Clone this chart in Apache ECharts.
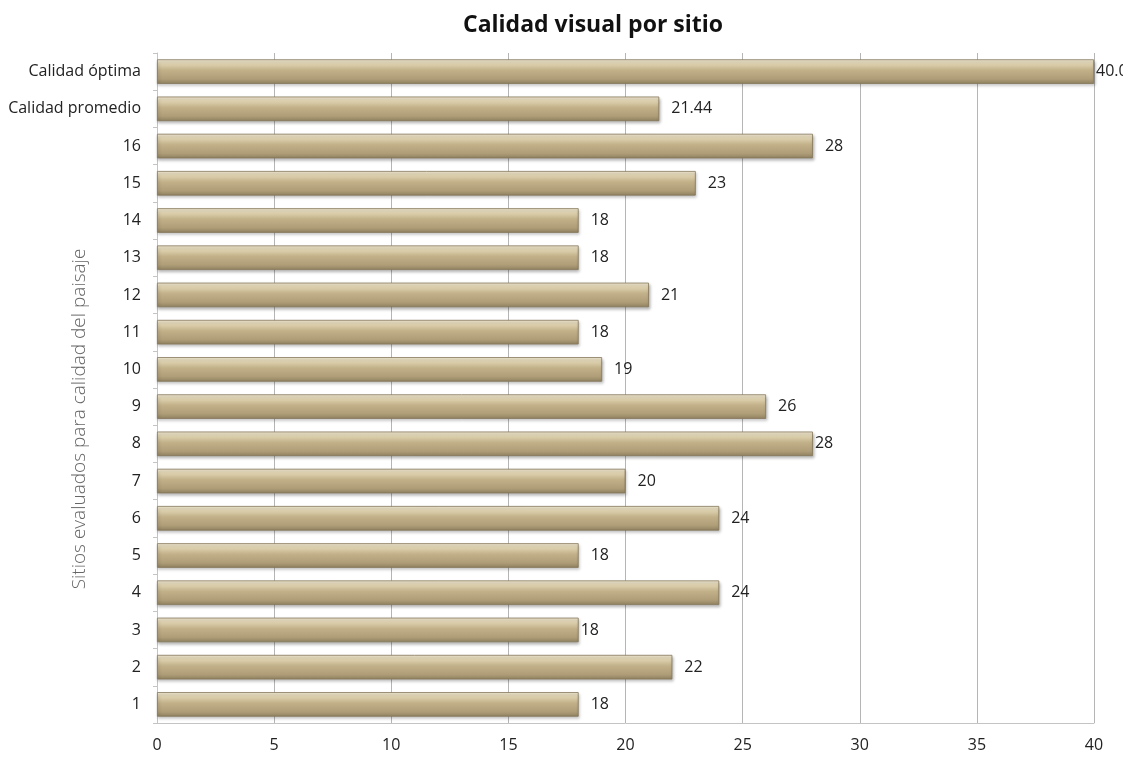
<!DOCTYPE html>
<html>
<head>
<meta charset="utf-8">
<title>Calidad visual por sitio</title>
<script src="https://cdn.jsdelivr.net/npm/echarts@6/dist/echarts.min.js"></script>
<style>
  html, body { margin: 0; padding: 0; background: #ffffff; }
  #chart { width: 1123px; height: 763px; }
</style>
</head>
<body>
<div id="chart"></div>
<script>
// Sites, listed bottom to top
const categories = ['1', '2', '3', '4', '5', '6', '7', '8', '9', '10', '11', '12', '13', '14', '15', '16', 'Calidad promedio', 'Calidad óptima'];
const values = [18, 22, 18, 24, 18, 24, 20, 28, 26, 19, 18, 21, 18, 18, 23, 28, 21.44, 40];
const valueLabels = ['18', '22', '18', '24', '18', '24', '20', '28', '26', '19', '18', '21', '18', '18', '23', '28', '21.44', '40.00'];
const xTicks = [0, 5, 10, 15, 20, 25, 30, 35, 40];

// bars whose value label sits right against the bar end
const tightLabels = new Set(['3', '8', 'Calidad óptima']);

const FONT = '"Open Sans", "Noto Sans", sans-serif';

const barFill = new echarts.graphic.LinearGradient(0, 0, 0, 1, [
  { offset: 0, color: '#f3ebd5' },
  { offset: 0.2, color: '#ddd0ad' },
  { offset: 0.45, color: '#c1b088' },
  { offset: 0.8, color: '#ae9d77' },
  { offset: 1, color: '#8f805f' }
]);

const seriesData = values.map((v, i) => ({
  value: v,
  label: {
    formatter: valueLabels[i],
    distance: tightLabels.has(categories[i]) ? 2 : 12
  }
}));

const chart = echarts.init(document.getElementById('chart'), null, { renderer: 'canvas' });
chart.setOption({
  backgroundColor: '#ffffff',
  animation: false,
  title: {
    text: 'Calidad visual por sitio',
    left: 458,
    top: 9,
    textStyle: { fontFamily: FONT, fontSize: 23, fontWeight: 'bold', color: '#111' }
  },
  grid: { left: 157, right: 29, top: 53, bottom: 40, containLabel: false },
  xAxis: {
    type: 'value',
    min: xTicks[0],
    max: xTicks[xTicks.length - 1],
    interval: xTicks[1] - xTicks[0],
    axisLine: { show: true, lineStyle: { color: '#c4c4c4' } },
    axisTick: { show: false },
    splitLine: { show: true, lineStyle: { color: '#b5b5b5', width: 1 } },
    axisLabel: { fontFamily: FONT, fontSize: 16, color: '#222', margin: 14 }
  },
  yAxis: {
    type: 'category',
    data: categories,
    name: 'Sitios evaluados para calidad del paisaje',
    nameLocation: 'middle',
    nameGap: 68,
    nameMoveOverlap: false,
    nameTextStyle: { fontFamily: FONT, fontSize: 19, fontWeight: 300, color: '#666', padding: [0, 62, 0, 0] },
    axisLine: { show: true, lineStyle: { color: '#c4c4c4' } },
    axisTick: { show: true, length: 4, lineStyle: { color: '#c4c4c4' } },
    axisLabel: { fontFamily: FONT, fontSize: 16, color: '#222', margin: 16 }
  },
  series: [{
    type: 'bar',
    data: seriesData,
    barWidth: '66%',
    itemStyle: {
      color: barFill,
      borderColor: '#85775a',
      borderWidth: 0.8,
      shadowColor: 'rgba(0,0,0,0.28)',
      shadowBlur: 3,
      shadowOffsetY: 2,
      shadowOffsetX: 1
    },
    label: {
      show: true,
      position: 'right',
      fontFamily: FONT,
      fontSize: 16,
      color: '#222'
    }
  }]
});
</script>
</body>
</html>
